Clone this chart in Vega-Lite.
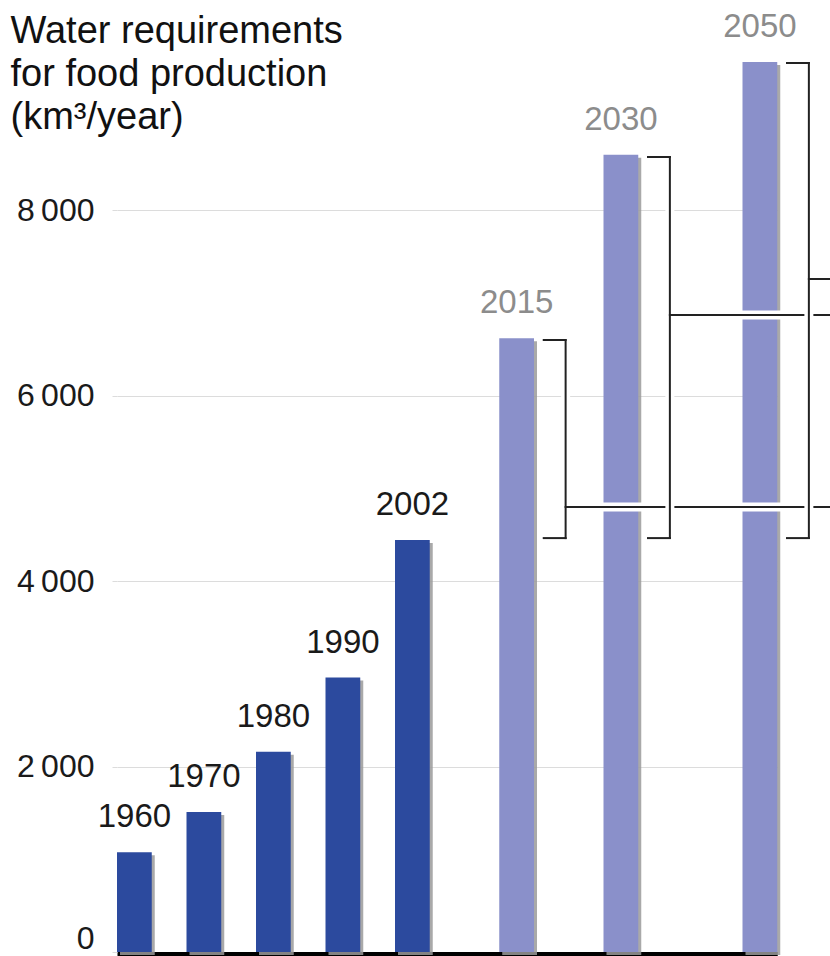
{
  "$schema": "https://vega.github.io/schema/vega-lite/v6.json",
  "width": 713,
  "height": 927,
  "autosize": "none",
  "padding": {"left": 117, "top": 25, "right": 0, "bottom": 4},
  "background": "white",
  "config": {"view": {"stroke": null}, "font": "Liberation Sans"},
  "datasets": {
    "bars": [
      {"year": 1960, "value": 1075, "period": "Historical"},
      {"year": 1970, "value": 1510, "period": "Historical"},
      {"year": 1980, "value": 2160, "period": "Historical"},
      {"year": 1990, "value": 2960, "period": "Historical"},
      {"year": 2002, "value": 4445, "period": "Historical"},
      {"year": 2015, "value": 6620, "period": "Projected"},
      {"year": 2030, "value": 8600, "period": "Projected"},
      {"year": 2050, "value": 9600, "period": "Projected"}
    ],
    "brackets": [
      {"year": 2015, "low": 4465, "high": 6602, "mid": 4800},
      {"year": 2030, "low": 4465, "high": 8576, "mid": 6872},
      {"year": 2050, "low": 4465, "high": 9590, "mid": 7260}
    ]
  },
  "layer": [
    {
      "data": {"name": "bars"},
      "mark": {"type": "bar", "xOffset": 3, "x2Offset": 3, "yOffset": 3, "color": "#9a9a9a", "opacity": 0.85},
      "encoding": {
        "x": {"field": "year", "type": "ordinal",
          "scale": {"domain": [1960, "g1", 1970, "g2", 1980, "g3", 1990, "g4", 2002, "g5", "g6", 2015, "g7", "g8", 2030, "g9", "g10", "g11", 2050], "range": [0, 660.25], "paddingInner": 0, "paddingOuter": 0},
          "axis": {"domain": true, "domainColor": "#000000", "domainWidth": 4, "ticks": false, "labels": false, "title": null, "grid": false, "offset": 1.5}},
        "y": {"field": "value", "type": "quantitative",
          "scale": {"domain": [0, 10000], "nice": false},
          "axis": {
            "values": [0, 2000, 4000, 6000, 8000],
            "domain": false,
            "ticks": true, "tickSize": 5, "tickColor": "#dcdcdc",
            "grid": true, "gridColor": "#dcdcdc", "gridWidth": 1,
            "labelFont": "Liberation Sans", "labelFontSize": 32, "labelColor": "#1a1a1a", "labelPadding": 18,
            "labelExpr": "replace(format(datum.value, ','), ',', '\u2009')",
            "labelBaseline": {"condition": {"test": "datum.value === 0", "value": "bottom"}, "value": "middle"},
            "labelOffset": {"condition": {"test": "datum.value === 0", "value": 3}, "value": 0},
            "title": ["Water requirements", "for food production", "(km³/year)"],
            "titleX": -107, "titleY": 17, "titleAngle": 0, "titleAlign": "left", "titleBaseline": "alphabetic",
            "titleFont": "Liberation Sans", "titleFontSize": 38, "titleFontWeight": "normal", "titleLineHeight": 43, "titleColor": "#111111"
          }}
      }
    },
    {
      "data": {"name": "bars"},
      "mark": {"type": "bar"},
      "encoding": {
        "x": {"field": "year", "type": "ordinal",
          "scale": {"domain": [1960, "g1", 1970, "g2", 1980, "g3", 1990, "g4", 2002, "g5", "g6", 2015, "g7", "g8", 2030, "g9", "g10", "g11", 2050], "range": [0, 660.25], "paddingInner": 0, "paddingOuter": 0}},
        "y": {"field": "value", "type": "quantitative", "scale": {"domain": [0, 10000], "nice": false}},
        "color": {"field": "period", "type": "nominal", "legend": null,
          "scale": {"domain": ["Historical", "Projected"], "range": ["#2c4a9e", "#8a90ca"]}}
      }
    },
    {
      "data": {"name": "bars"},
      "mark": {"type": "text", "dy": -25, "fontSize": 33, "font": "Liberation Sans", "baseline": "alphabetic", "align": "center"},
      "encoding": {
        "x": {"field": "year", "type": "ordinal",
          "scale": {"domain": [1960, "g1", 1970, "g2", 1980, "g3", 1990, "g4", 2002, "g5", "g6", 2015, "g7", "g8", 2030, "g9", "g10", "g11", 2050], "range": [0, 660.25], "paddingInner": 0, "paddingOuter": 0}},
        "y": {"field": "value", "type": "quantitative", "scale": {"domain": [0, 10000], "nice": false}},
        "text": {"field": "year", "type": "nominal"},
        "color": {"condition": {"test": "datum.year > 2002", "value": "#8c8c8c"}, "value": "#1a1a1a"}
      }
    },
    {
      "data": {"name": "brackets"},
      "transform": [{"filter": "datum.year == 2015"}],
      "encoding": {
        "y": {"field": "mid", "type": "quantitative", "scale": {"domain": [0, 10000], "nice": false}}
      },
      "layer": [
        {"mark": {"type": "rule", "color": "#ffffff", "strokeWidth": 9},
         "encoding": {"x": {"field": "year", "type": "ordinal", "bandPosition": 1.91, "scale": {"domain": [1960, "g1", 1970, "g2", 1980, "g3", 1990, "g4", 2002, "g5", "g6", 2015, "g7", "g8", 2030, "g9", "g10", "g11", 2050], "range": [0, 660.25], "paddingInner": 0, "paddingOuter": 0}}, "x2": {"value": "width"}}},
        {"mark": {"type": "rule", "color": "#ffffff", "strokeWidth": 9},
         "encoding": {"x": {"field": "year", "type": "ordinal", "bandPosition": 1.91, "scale": {"domain": [1960, "g1", 1970, "g2", 1980, "g3", 1990, "g4", 2002, "g5", "g6", 2015, "g7", "g8", 2030, "g9", "g10", "g11", 2050], "range": [0, 660.25], "paddingInner": 0, "paddingOuter": 0}},
           "y": {"field": "low", "type": "quantitative", "scale": {"domain": [0, 10000], "nice": false}}, "y2": {"field": "high"}}},
        {"mark": {"type": "rule", "color": "#222222", "strokeWidth": 2, "strokeCap": "square"},
         "encoding": {"x": {"field": "year", "type": "ordinal", "bandPosition": 1.91, "scale": {"domain": [1960, "g1", 1970, "g2", 1980, "g3", 1990, "g4", 2002, "g5", "g6", 2015, "g7", "g8", 2030, "g9", "g10", "g11", 2050], "range": [0, 660.25], "paddingInner": 0, "paddingOuter": 0}}, "x2": {"value": "width"}}},
        {"mark": {"type": "rule", "color": "#222222", "strokeWidth": 2, "strokeCap": "square"},
         "encoding": {"x": {"field": "year", "type": "ordinal", "bandPosition": 1.91, "scale": {"domain": [1960, "g1", 1970, "g2", 1980, "g3", 1990, "g4", 2002, "g5", "g6", 2015, "g7", "g8", 2030, "g9", "g10", "g11", 2050], "range": [0, 660.25], "paddingInner": 0, "paddingOuter": 0}},
           "y": {"field": "low", "type": "quantitative", "scale": {"domain": [0, 10000], "nice": false}}, "y2": {"field": "high"}}},
        {"mark": {"type": "rule", "color": "#222222", "strokeWidth": 2, "strokeCap": "square"},
         "encoding": {"x": {"field": "year", "type": "ordinal", "bandPosition": 1.28, "scale": {"domain": [1960, "g1", 1970, "g2", 1980, "g3", 1990, "g4", 2002, "g5", "g6", 2015, "g7", "g8", 2030, "g9", "g10", "g11", 2050], "range": [0, 660.25], "paddingInner": 0, "paddingOuter": 0}},
           "x2": {"field": "year", "bandPosition": 1.91},
           "y": {"field": "high", "type": "quantitative", "scale": {"domain": [0, 10000], "nice": false}}}},
        {"mark": {"type": "rule", "color": "#222222", "strokeWidth": 2, "strokeCap": "square"},
         "encoding": {"x": {"field": "year", "type": "ordinal", "bandPosition": 1.28, "scale": {"domain": [1960, "g1", 1970, "g2", 1980, "g3", 1990, "g4", 2002, "g5", "g6", 2015, "g7", "g8", 2030, "g9", "g10", "g11", 2050], "range": [0, 660.25], "paddingInner": 0, "paddingOuter": 0}},
           "x2": {"field": "year", "bandPosition": 1.91},
           "y": {"field": "low", "type": "quantitative", "scale": {"domain": [0, 10000], "nice": false}}}}
      ]
    },
    {
      "data": {"name": "brackets"},
      "transform": [{"filter": "datum.year == 2030"}],
      "encoding": {
        "y": {"field": "mid", "type": "quantitative", "scale": {"domain": [0, 10000], "nice": false}}
      },
      "layer": [
        {"mark": {"type": "rule", "color": "#ffffff", "strokeWidth": 9},
         "encoding": {"x": {"field": "year", "type": "ordinal", "bandPosition": 1.91, "scale": {"domain": [1960, "g1", 1970, "g2", 1980, "g3", 1990, "g4", 2002, "g5", "g6", 2015, "g7", "g8", 2030, "g9", "g10", "g11", 2050], "range": [0, 660.25], "paddingInner": 0, "paddingOuter": 0}}, "x2": {"value": "width"}}},
        {"mark": {"type": "rule", "color": "#ffffff", "strokeWidth": 9},
         "encoding": {"x": {"field": "year", "type": "ordinal", "bandPosition": 1.91, "scale": {"domain": [1960, "g1", 1970, "g2", 1980, "g3", 1990, "g4", 2002, "g5", "g6", 2015, "g7", "g8", 2030, "g9", "g10", "g11", 2050], "range": [0, 660.25], "paddingInner": 0, "paddingOuter": 0}},
           "y": {"field": "low", "type": "quantitative", "scale": {"domain": [0, 10000], "nice": false}}, "y2": {"field": "high"}}},
        {"mark": {"type": "rule", "color": "#222222", "strokeWidth": 2, "strokeCap": "square"},
         "encoding": {"x": {"field": "year", "type": "ordinal", "bandPosition": 1.91, "scale": {"domain": [1960, "g1", 1970, "g2", 1980, "g3", 1990, "g4", 2002, "g5", "g6", 2015, "g7", "g8", 2030, "g9", "g10", "g11", 2050], "range": [0, 660.25], "paddingInner": 0, "paddingOuter": 0}}, "x2": {"value": "width"}}},
        {"mark": {"type": "rule", "color": "#222222", "strokeWidth": 2, "strokeCap": "square"},
         "encoding": {"x": {"field": "year", "type": "ordinal", "bandPosition": 1.91, "scale": {"domain": [1960, "g1", 1970, "g2", 1980, "g3", 1990, "g4", 2002, "g5", "g6", 2015, "g7", "g8", 2030, "g9", "g10", "g11", 2050], "range": [0, 660.25], "paddingInner": 0, "paddingOuter": 0}},
           "y": {"field": "low", "type": "quantitative", "scale": {"domain": [0, 10000], "nice": false}}, "y2": {"field": "high"}}},
        {"mark": {"type": "rule", "color": "#222222", "strokeWidth": 2, "strokeCap": "square"},
         "encoding": {"x": {"field": "year", "type": "ordinal", "bandPosition": 1.28, "scale": {"domain": [1960, "g1", 1970, "g2", 1980, "g3", 1990, "g4", 2002, "g5", "g6", 2015, "g7", "g8", 2030, "g9", "g10", "g11", 2050], "range": [0, 660.25], "paddingInner": 0, "paddingOuter": 0}},
           "x2": {"field": "year", "bandPosition": 1.91},
           "y": {"field": "high", "type": "quantitative", "scale": {"domain": [0, 10000], "nice": false}}}},
        {"mark": {"type": "rule", "color": "#222222", "strokeWidth": 2, "strokeCap": "square"},
         "encoding": {"x": {"field": "year", "type": "ordinal", "bandPosition": 1.28, "scale": {"domain": [1960, "g1", 1970, "g2", 1980, "g3", 1990, "g4", 2002, "g5", "g6", 2015, "g7", "g8", 2030, "g9", "g10", "g11", 2050], "range": [0, 660.25], "paddingInner": 0, "paddingOuter": 0}},
           "x2": {"field": "year", "bandPosition": 1.91},
           "y": {"field": "low", "type": "quantitative", "scale": {"domain": [0, 10000], "nice": false}}}}
      ]
    },
    {
      "data": {"name": "brackets"},
      "transform": [{"filter": "datum.year == 2050"}],
      "encoding": {
        "y": {"field": "mid", "type": "quantitative", "scale": {"domain": [0, 10000], "nice": false}}
      },
      "layer": [
        {"mark": {"type": "rule", "color": "#ffffff", "strokeWidth": 9},
         "encoding": {"x": {"field": "year", "type": "ordinal", "bandPosition": 1.91, "scale": {"domain": [1960, "g1", 1970, "g2", 1980, "g3", 1990, "g4", 2002, "g5", "g6", 2015, "g7", "g8", 2030, "g9", "g10", "g11", 2050], "range": [0, 660.25], "paddingInner": 0, "paddingOuter": 0}}, "x2": {"value": "width"}}},
        {"mark": {"type": "rule", "color": "#ffffff", "strokeWidth": 9},
         "encoding": {"x": {"field": "year", "type": "ordinal", "bandPosition": 1.91, "scale": {"domain": [1960, "g1", 1970, "g2", 1980, "g3", 1990, "g4", 2002, "g5", "g6", 2015, "g7", "g8", 2030, "g9", "g10", "g11", 2050], "range": [0, 660.25], "paddingInner": 0, "paddingOuter": 0}},
           "y": {"field": "low", "type": "quantitative", "scale": {"domain": [0, 10000], "nice": false}}, "y2": {"field": "high"}}},
        {"mark": {"type": "rule", "color": "#222222", "strokeWidth": 2, "strokeCap": "square"},
         "encoding": {"x": {"field": "year", "type": "ordinal", "bandPosition": 1.91, "scale": {"domain": [1960, "g1", 1970, "g2", 1980, "g3", 1990, "g4", 2002, "g5", "g6", 2015, "g7", "g8", 2030, "g9", "g10", "g11", 2050], "range": [0, 660.25], "paddingInner": 0, "paddingOuter": 0}}, "x2": {"value": "width"}}},
        {"mark": {"type": "rule", "color": "#222222", "strokeWidth": 2, "strokeCap": "square"},
         "encoding": {"x": {"field": "year", "type": "ordinal", "bandPosition": 1.91, "scale": {"domain": [1960, "g1", 1970, "g2", 1980, "g3", 1990, "g4", 2002, "g5", "g6", 2015, "g7", "g8", 2030, "g9", "g10", "g11", 2050], "range": [0, 660.25], "paddingInner": 0, "paddingOuter": 0}},
           "y": {"field": "low", "type": "quantitative", "scale": {"domain": [0, 10000], "nice": false}}, "y2": {"field": "high"}}},
        {"mark": {"type": "rule", "color": "#222222", "strokeWidth": 2, "strokeCap": "square"},
         "encoding": {"x": {"field": "year", "type": "ordinal", "bandPosition": 1.28, "scale": {"domain": [1960, "g1", 1970, "g2", 1980, "g3", 1990, "g4", 2002, "g5", "g6", 2015, "g7", "g8", 2030, "g9", "g10", "g11", 2050], "range": [0, 660.25], "paddingInner": 0, "paddingOuter": 0}},
           "x2": {"field": "year", "bandPosition": 1.91},
           "y": {"field": "high", "type": "quantitative", "scale": {"domain": [0, 10000], "nice": false}}}},
        {"mark": {"type": "rule", "color": "#222222", "strokeWidth": 2, "strokeCap": "square"},
         "encoding": {"x": {"field": "year", "type": "ordinal", "bandPosition": 1.28, "scale": {"domain": [1960, "g1", 1970, "g2", 1980, "g3", 1990, "g4", 2002, "g5", "g6", 2015, "g7", "g8", 2030, "g9", "g10", "g11", 2050], "range": [0, 660.25], "paddingInner": 0, "paddingOuter": 0}},
           "x2": {"field": "year", "bandPosition": 1.91},
           "y": {"field": "low", "type": "quantitative", "scale": {"domain": [0, 10000], "nice": false}}}}
      ]
    }
  ]
}
